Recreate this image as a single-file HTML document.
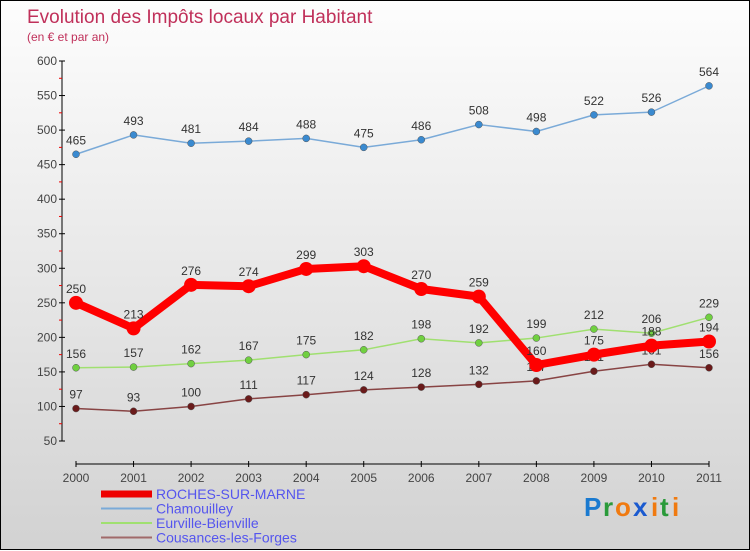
<!DOCTYPE html>
<html><head><meta charset="utf-8"><style>
body{margin:0;width:750px;height:550px;overflow:hidden;font-family:"Liberation Sans",sans-serif}
#wrap{position:relative;width:748px;height:548px;border:1px solid #000;background:linear-gradient(#fdfdfd,#d2d2d2)}
svg{position:absolute;left:0;top:0}
</style></head><body>
<div id="wrap">
<svg id="chart" width="750" height="550">
<text x="26" y="22" font-size="19" fill="#c0305a">Evolution des Impôts locaux par Habitant</text>
<text x="26" y="40" font-size="12" fill="#c0305a">(en € et par an)</text>
<g id="axes"></g><g id="series"></g><g id="legend"></g>
<g font-size="26" font-family="Liberation Sans, sans-serif" font-weight="bold">
<text x="583" y="515" fill="#1a7ad0">P</text><text x="602" y="515" fill="#2a9a3a">r</text><text x="614" y="515" fill="#f07a10">o</text><text x="632" y="515" fill="#1a5ad0">x</text><text x="650" y="515" fill="#f07a10">i</text><text x="659" y="515" fill="#2a9a3a">t</text><text x="671" y="515" fill="#f07a10">i</text>
</g>
</svg></div>
<script>
const years=["2000","2001","2002","2003","2004","2005","2006","2007","2008","2009","2010","2011"];
const yTicks=[50,100,150,200,250,300,350,400,450,500,550,600];
const roches=[250,213,276,274,299,303,270,259,160,175,188,194];
const chamouilley=[465,493,481,484,488,475,486,508,498,522,526,564];
const eurville=[156,157,162,167,175,182,198,192,199,212,206,229];
const cousances=[97,93,100,111,117,124,128,132,137,151,161,156];
const NS="http://www.w3.org/2000/svg";
const X=i=>75+i*(708-75)/11;
const Y=v=>60+(600-v)*380/550;
function mk(t,a,p){const e=document.createElementNS(NS,t);for(const k in a)e.setAttribute(k,a[k]);p.appendChild(e);return e;}
const ax=document.getElementById('axes');
let l=mk('line',{x1:61,y1:60,x2:61,y2:440,stroke:'#000'},ax);


yTicks.forEach(v=>{
 mk('line',{x1:58,y1:Y(v),x2:64,y2:Y(v),stroke:'#000'},ax);
 if(v<600) mk('line',{x1:58,y1:Y(v+25),x2:61,y2:Y(v+25),stroke:'#e00'},ax);
 const t=mk('text',{x:56,y:Y(v)+4,'font-size':12,fill:'#444','text-anchor':'end'},ax);t.textContent=v;
 
 
});
l=mk('line',{x1:75,y1:463,x2:708,y2:463,stroke:'#000'},ax);


years.forEach((y,i)=>{
 mk('line',{x1:X(i),y1:460,x2:X(i),y2:466,stroke:'#000'},ax);
 const t=mk('text',{x:X(i),y:481,'font-size':12,fill:'#444','text-anchor':'middle'},ax);t.textContent=y;
 
 
});
const sg=document.getElementById('series');
function draw(data,name,col,dot,w,r){
 const g=mk('g',{},sg);
 
 
 mk('polyline',{points:data.map((v,i)=>X(i)+','+Y(v)).join(' '),fill:'none',stroke:col,'stroke-width':w,'stroke-linejoin':'round'},g);
 data.forEach((v,i)=>{
  const c=mk('circle',{cx:X(i),cy:Y(v),r:r,fill:dot,stroke:'#555','stroke-width':r>5?0:0.5},g);
  
  
  const t=mk('text',{x:X(i),y:Y(v)-10,'font-size':12,fill:'#333','text-anchor':'middle'},g);t.textContent=v;
  
  
 });
}
draw(chamouilley,'chamouilley','#7aaad8','#3a8ad0',1.5,3.5);
draw(eurville,'eurville','#a0e070','#70d040',1.5,3.5);
draw(cousances,'cousances','#884444','#6a1a1a',1.5,3.5);
draw(roches,'roches','#f00','#f00',8,7);
const lg=document.getElementById('legend');
[["ROCHES-SUR-MARNE","#e00",7],["Chamouilley","#7aaad8",2],["Eurville-Bienville","#a0e070",2],["Cousances-les-Forges","#a06a6a",2]].forEach((d,i)=>{
 const y=493+i*14.5;
 const g=mk('g',{},lg);
 
 
 mk('line',{x1:100,y1:y,x2:151,y2:y,stroke:d[1],'stroke-width':d[2]},g);
 const t=mk('text',{x:155,y:y+5,'font-size':14,fill:'#5555ee'},g);t.textContent=d[0];
});
</script>
</body></html>
